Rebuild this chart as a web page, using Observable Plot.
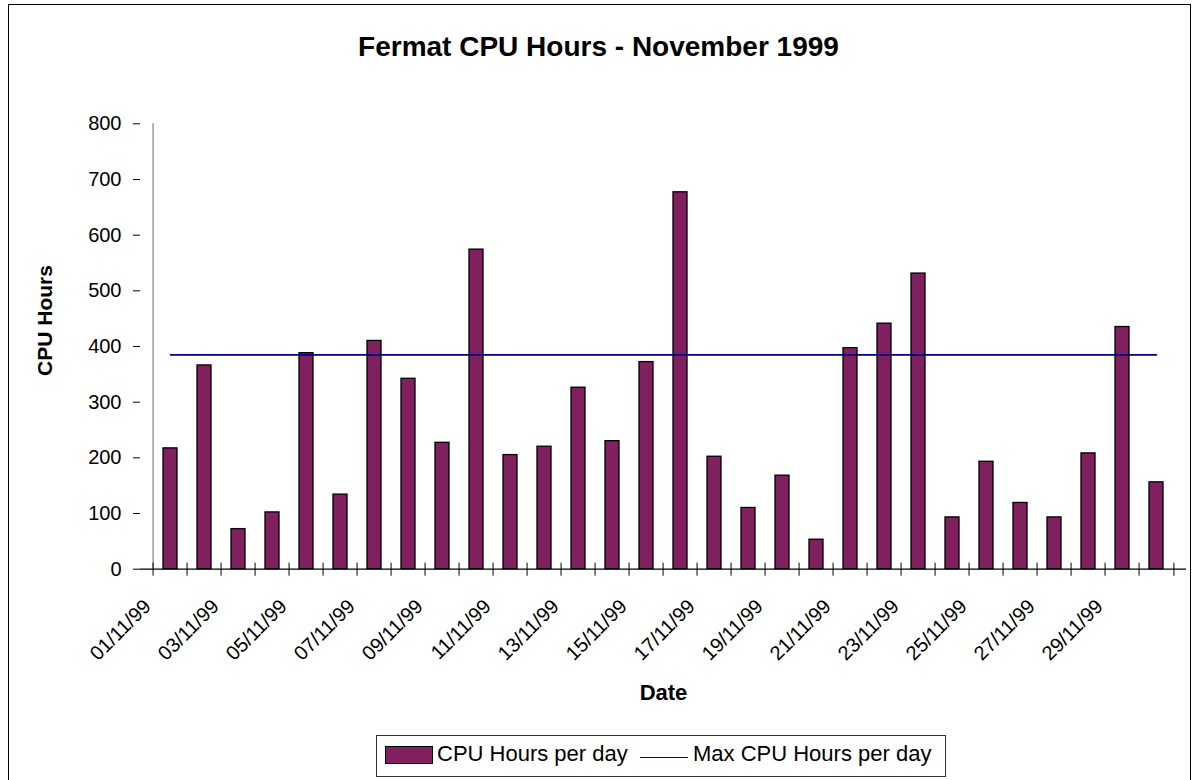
<!DOCTYPE html>
<html>
<head>
<meta charset="utf-8">
<script src="https://cdn.jsdelivr.net/npm/d3@7"></script>
<script src="https://cdn.jsdelivr.net/npm/@observablehq/plot@0.6"></script>
<style>
  body { margin: 0; background: #fff; font-family: Arial, "Liberation Sans", sans-serif; }
  #wrap { position: relative; width: 1197px; height: 780px; overflow: hidden; background: #fff; }
  #border { position: absolute; left: 8px; top: 4px; width: 1181px; height: 900px; border: 1px solid #000; z-index: 2; pointer-events: none; }
  #title { position: absolute; left: 0; top: 33px; width: 1197px; text-align: center; font-weight: bold; font-size: 28px; line-height: 28px; color: #000; }
  #chart { position: absolute; left: 0; top: 90px; }
  #legend { position: absolute; left: 376px; top: 735px; width: 568px; height: 40px; border: 1px solid #333; background: #fff; font-size: 22px; line-height: 22px; color: #000; }
  #legend .sw { position: absolute; left: 8px; top: 10px; width: 46px; height: 16px; background: #80205f; border: 1px solid #000; }
  #legend .ln { position: absolute; left: 263px; top: 21px; width: 48px; height: 0; border-top: 1.5px solid #000080; }
  #legend .t1 { position: absolute; left: 60px; top: 7px; white-space: nowrap; }
  #legend .t2 { position: absolute; left: 316px; top: 7px; white-space: nowrap; }
</style>
</head>
<body>
<div id="wrap">
  <div id="border"></div>
  <div id="title"></div>
  <div id="chart"></div>
  <div id="legend"><span class="sw"></span><span class="t1"></span><span class="ln"></span><span class="t2"></span></div>
</div>
<script>
// ---- data ----
const dates = ["01/11/99","02/11/99","03/11/99","04/11/99","05/11/99","06/11/99","07/11/99","08/11/99","09/11/99","10/11/99",
               "11/11/99","12/11/99","13/11/99","14/11/99","15/11/99","16/11/99","17/11/99","18/11/99","19/11/99","20/11/99",
               "21/11/99","22/11/99","23/11/99","24/11/99","25/11/99","26/11/99","27/11/99","28/11/99","29/11/99","30/11/99"];
const cpuHours = [217,366,72,102,388,134,410,342,227,574,
                  205,220,326,230,372,677,202,110,168,53,
                  397,441,531,93,193,119,93,208,435,156];
const maxCpuHours = 385;
const yTicks = [0,100,200,300,400,500,600,700,800];
const labelledDates = ["01/11/99","03/11/99","05/11/99","07/11/99","09/11/99","11/11/99","13/11/99","15/11/99",
                       "17/11/99","19/11/99","21/11/99","23/11/99","25/11/99","27/11/99","29/11/99"];
const titleText = "Fermat CPU Hours - November 1999";
const yLabel = "CPU Hours";
const xLabel = "Date";
const seriesNames = ["CPU Hours per day", "Max CPU Hours per day"];

document.getElementById("title").textContent = titleText;
document.querySelector("#legend .t1").textContent = seriesNames[0];
document.querySelector("#legend .t2").textContent = seriesNames[1];

const data = dates.map((d, i) => ({date: d, hours: cpuHours[i], max: maxCpuHours}));

const W = 1197, H = 620, mL = 140, mR = 11, mT = 33.3, mB = 141.3;
const bw = (W - mL - mR) / dates.length;

const chart = Plot.plot({
  width: W,
  height: H,
  marginLeft: mL,
  marginRight: mR,
  marginTop: mT,
  marginBottom: mB,
  style: {fontFamily: "Arial, 'Liberation Sans', sans-serif", fontSize: "20px", color: "#000", background: "transparent", overflow: "visible"},
  x: {type: "band", domain: dates, padding: 0, axis: null},
  y: {domain: [0, 800], axis: null},
  marks: [
    Plot.barY(data, {x: "date", y: "hours", fill: "#80205f", stroke: "#000", strokeWidth: 1.3, insetLeft: 10, insetRight: 10}),
    Plot.lineY(data, {x: "date", y: "max", stroke: "#000080", strokeWidth: 1.6}),
    Plot.ruleX([dates[0]], {dx: -bw / 2, stroke: "#808080", strokeWidth: 1.2}),
    Plot.ruleY([0], {stroke: "#000", strokeWidth: 1.2}),
    Plot.axisY({ticks: yTicks, tickSize: 7, tickPadding: 12, label: null, stroke: "#000"}),
    Plot.axisX({tickSize: 13, dx: -bw / 2, dy: -6, fill: "none", label: null, stroke: "#000"}),
    Plot.axisX({ticks: [dates[dates.length - 1]], tickSize: 13, dx: bw / 2, dy: -6, fill: "none", label: null, stroke: "#000"}),
    Plot.axisX({ticks: labelledDates, tickSize: 0, tickRotate: -45, dx: -23, dy: 22, label: null}),
    Plot.text([yLabel], {frameAnchor: "left", rotate: -90, dx: -95, dy: -26, fontWeight: "bold", fontSize: 21, textAnchor: "middle"}),
    Plot.text([xLabel], {frameAnchor: "bottom", dy: 131, fontWeight: "bold", fontSize: 22, textAnchor: "middle", lineAnchor: "bottom"})
  ]
});
document.getElementById("chart").appendChild(chart);
</script>
</body>
</html>
